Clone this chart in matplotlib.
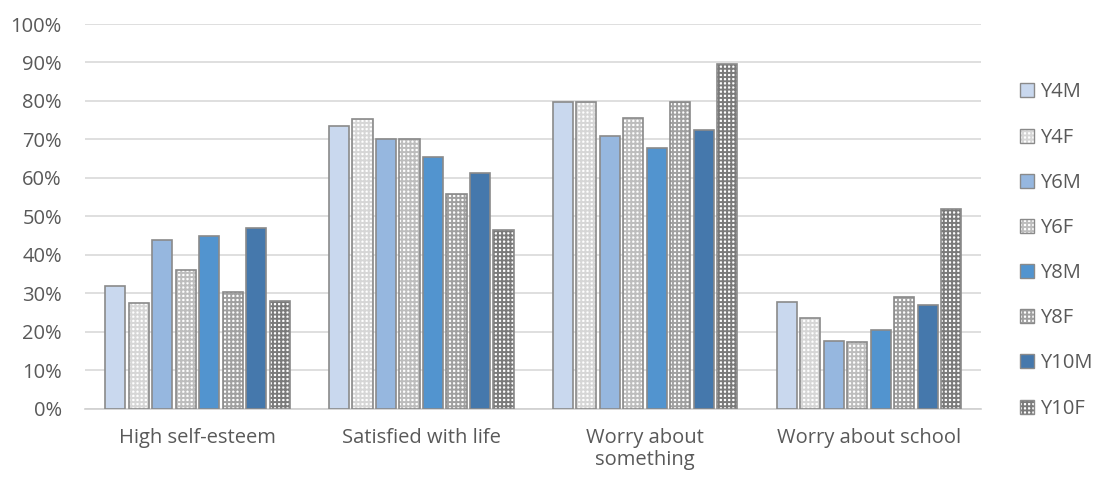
import numpy as np
import matplotlib.pyplot as plt
from matplotlib.patches import Patch

plt.rcParams['font.family'] = ['Open Sans', 'DejaVu Sans']
plt.rcParams['hatch.linewidth'] = 1.4

categories = ['High self-esteem', 'Satisfied with life', 'Worry about\nsomething', 'Worry about school']
series = ['Y4M', 'Y4F', 'Y6M', 'Y6F', 'Y8M', 'Y8F', 'Y10M', 'Y10F']

y4m = [32.0, 73.5, 79.7, 27.8]
y4f = [27.5, 75.2, 79.7, 23.5]
y6m = [44.0, 70.0, 70.8, 17.6]
y6f = [36.0, 70.0, 75.7, 17.4]
y8m = [45.0, 65.4, 67.9, 20.4]
y8f = [30.4, 55.8, 79.7, 29.0]
y10m = [47.0, 61.3, 72.5, 27.0]
y10f = [28.0, 46.5, 89.7, 52.0]

valores = [y4m, y4f, y6m, y6f, y8m, y8f, y10m, y10f]
colores = ['#c9d8ee', '#d6d6d6', '#96b7df', '#bdbdbd', '#5294cf', '#a0a0a0', '#4578ac', '#7a7a7a']
rayado = [False, True, False, True, False, True, False, True]

fig = plt.figure(figsize=(10.96, 4.8), dpi=100)
ax = fig.add_axes([0.078, 0.148, 0.817, 0.802])

x = np.arange(len(categories))
paso = 0.105
ancho = 0.09
borde = '#8a8a8a'

manijas = []
for i, (nombre, vals) in enumerate(zip(series, valores)):
    pos = x + (i - 3.5) * paso
    v = np.array(vals) / 100
    if rayado[i]:
        # fondo blanco con rejilla gris -> cuadritos blancos sobre gris
        ax.bar(pos, v, ancho, color='white', edgecolor=colores[i], hatch='++++', linewidth=0, zorder=3)
        ax.bar(pos, v, ancho, facecolor='none', edgecolor=borde, linewidth=1.2, zorder=4)
        manijas.append((Patch(facecolor='white', edgecolor=colores[i], hatch='++++', linewidth=0),
                        Patch(facecolor='none', edgecolor=borde, linewidth=1)))
    else:
        ax.bar(pos, v, ancho, color=colores[i], edgecolor=borde, linewidth=1.2, zorder=3)
        manijas.append(Patch(facecolor=colores[i], edgecolor=borde, linewidth=1))

ax.set_xlim(-0.5, 3.5)
ax.set_ylim(0, 1.0)
ax.set_yticks(np.arange(0, 1.01, 0.1))
ax.set_yticklabels([f'{int(round(t*100))}%' for t in np.arange(0, 1.01, 0.1)])
ax.set_xticks(x)
ax.set_xticklabels(categories, linespacing=1.1)
ax.tick_params(axis='both', length=0, labelsize=14.5, colors='#595959')
ax.tick_params(axis='y', pad=17)
ax.tick_params(axis='x', pad=14)
ax.grid(axis='y', color='#d9d9d9', linewidth=1.2, zorder=0)
for s in ['top', 'right', 'left']:
    ax.spines[s].set_visible(False)
ax.spines['bottom'].set_color('#d0d0d0')
ax.spines['bottom'].set_linewidth(1.2)

leg = fig.legend(manijas, series, loc='center left', bbox_to_anchor=(0.931, 0.478), frameon=False,
                 fontsize=14.5, labelspacing=1.25, handlelength=0.7, handleheight=0.7,
                 handletextpad=0.3, borderaxespad=0, borderpad=0)
for t in leg.get_texts():
    t.set_color('#595959')

fig.savefig('out.png', dpi=100)
